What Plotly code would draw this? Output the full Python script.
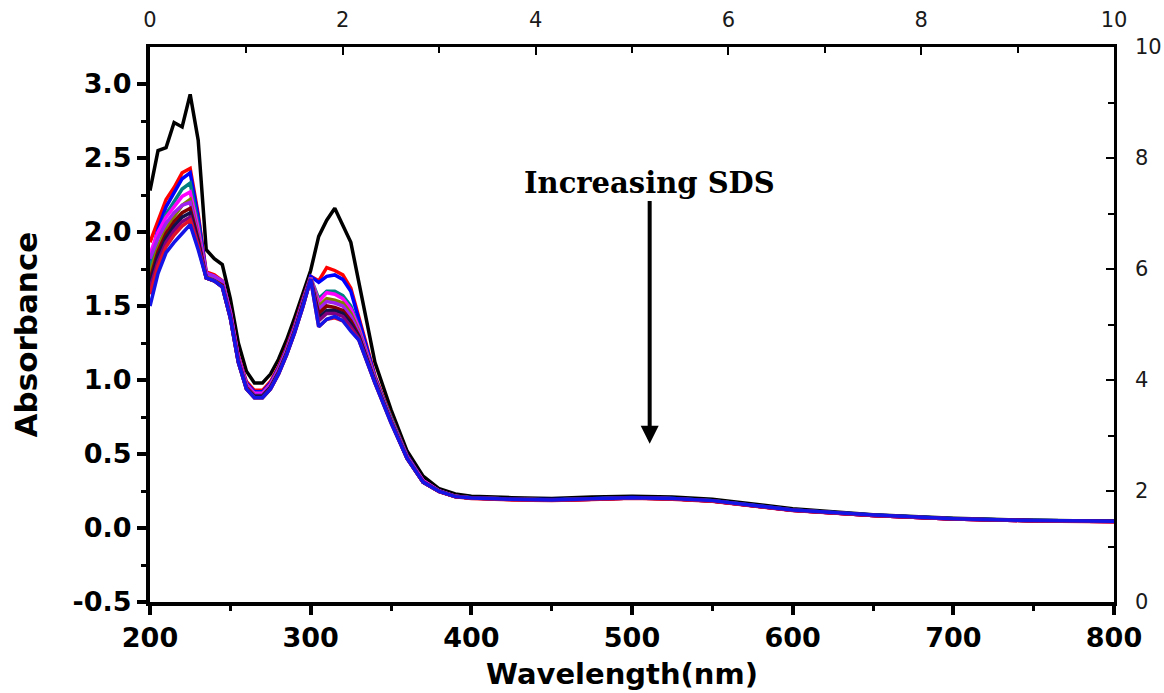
import plotly.graph_objects as go

# Wavelength grid (nm)
wavelength = [200, 205, 210, 215, 220, 225, 230, 235, 240, 245, 250, 255, 260, 265, 270,
              275, 280, 285, 290, 295, 300, 305, 310, 315, 320, 325, 330, 340, 350, 360,
              370, 380, 390, 400, 425, 450, 475, 500, 525, 550, 600, 650, 700, 750, 800]

# Absorbance spectra, from no SDS to the highest SDS concentration
abs_0 = [2.28, 2.55, 2.57, 2.74, 2.71, 2.93, 2.62, 1.88, 1.82, 1.78, 1.55, 1.25, 1.06, 0.98, 0.98,
         1.04, 1.14, 1.27, 1.42, 1.58, 1.74, 1.97, 2.08, 2.16, 2.05, 1.93, 1.66, 1.12, 0.80, 0.52,
         0.35, 0.265, 0.23, 0.215, 0.205, 0.20, 0.21, 0.215, 0.21, 0.195, 0.13, 0.09, 0.066, 0.052, 0.046]
abs_1 = [1.93, 2.08, 2.22, 2.30, 2.40, 2.43, 2.12, 1.73, 1.71, 1.67, 1.46, 1.16, 0.99, 0.93, 0.93,
         0.99, 1.09, 1.22, 1.37, 1.54, 1.70, 1.67, 1.76, 1.74, 1.71, 1.62, 1.42, 1.03, 0.75, 0.49,
         0.32, 0.25, 0.215, 0.203, 0.193, 0.188, 0.195, 0.203, 0.197, 0.182, 0.12, 0.085, 0.061, 0.049, 0.044]
abs_2 = [1.80, 2.02, 2.17, 2.26, 2.36, 2.40, 2.10, 1.72, 1.70, 1.66, 1.45, 1.15, 0.98, 0.92, 0.92,
         0.98, 1.08, 1.21, 1.36, 1.53, 1.70, 1.66, 1.70, 1.71, 1.68, 1.60, 1.40, 1.02, 0.74, 0.49,
         0.32, 0.25, 0.215, 0.205, 0.196, 0.192, 0.198, 0.206, 0.20, 0.185, 0.122, 0.087, 0.063, 0.05, 0.045]
abs_3 = [1.75, 1.97, 2.12, 2.20, 2.29, 2.33, 2.05, 1.71, 1.69, 1.65, 1.44, 1.14, 0.97, 0.91, 0.91,
         0.97, 1.07, 1.20, 1.35, 1.52, 1.69, 1.55, 1.60, 1.60, 1.57, 1.50, 1.36, 1.01, 0.74, 0.48,
         0.32, 0.25, 0.214, 0.204, 0.195, 0.19, 0.197, 0.205, 0.199, 0.184, 0.121, 0.086, 0.062, 0.05, 0.045]
abs_4 = [1.85, 2.00, 2.10, 2.17, 2.24, 2.27, 2.02, 1.72, 1.70, 1.66, 1.45, 1.15, 0.97, 0.91, 0.91,
         0.97, 1.07, 1.20, 1.35, 1.52, 1.69, 1.53, 1.59, 1.58, 1.55, 1.48, 1.35, 1.01, 0.73, 0.48,
         0.32, 0.25, 0.214, 0.203, 0.194, 0.189, 0.196, 0.204, 0.198, 0.183, 0.12, 0.085, 0.061, 0.049, 0.044]
abs_5 = [1.72, 1.90, 2.03, 2.11, 2.18, 2.22, 1.98, 1.70, 1.68, 1.64, 1.43, 1.13, 0.96, 0.90, 0.90,
         0.96, 1.06, 1.19, 1.34, 1.51, 1.69, 1.50, 1.55, 1.54, 1.52, 1.45, 1.33, 1.00, 0.73, 0.48,
         0.31, 0.248, 0.213, 0.203, 0.194, 0.19, 0.196, 0.204, 0.198, 0.184, 0.121, 0.086, 0.062, 0.05, 0.045]
abs_6 = [1.82, 1.96, 2.06, 2.13, 2.18, 2.20, 1.97, 1.72, 1.70, 1.67, 1.46, 1.15, 0.96, 0.90, 0.90,
         0.96, 1.06, 1.19, 1.34, 1.51, 1.69, 1.48, 1.53, 1.52, 1.50, 1.43, 1.32, 1.00, 0.73, 0.48,
         0.31, 0.248, 0.213, 0.202, 0.193, 0.188, 0.195, 0.203, 0.197, 0.183, 0.12, 0.085, 0.061, 0.049, 0.044]
abs_7 = [1.68, 1.87, 1.99, 2.07, 2.13, 2.16, 1.95, 1.69, 1.67, 1.64, 1.43, 1.13, 0.95, 0.89, 0.89,
         0.95, 1.05, 1.18, 1.33, 1.50, 1.68, 1.45, 1.50, 1.49, 1.47, 1.40, 1.30, 0.99, 0.72, 0.47,
         0.31, 0.247, 0.212, 0.202, 0.193, 0.189, 0.195, 0.203, 0.197, 0.183, 0.12, 0.085, 0.061, 0.049, 0.044]
abs_8 = [1.65, 1.84, 1.96, 2.04, 2.10, 2.13, 1.93, 1.69, 1.67, 1.63, 1.42, 1.12, 0.94, 0.89, 0.89,
         0.95, 1.05, 1.18, 1.33, 1.50, 1.68, 1.42, 1.47, 1.47, 1.45, 1.38, 1.29, 0.99, 0.72, 0.47,
         0.31, 0.247, 0.212, 0.202, 0.193, 0.189, 0.196, 0.204, 0.198, 0.184, 0.121, 0.086, 0.062, 0.05, 0.045]
abs_9 = [1.62, 1.80, 1.93, 2.01, 2.07, 2.10, 1.91, 1.69, 1.67, 1.63, 1.42, 1.12, 0.94, 0.88, 0.88,
         0.94, 1.04, 1.17, 1.32, 1.49, 1.68, 1.40, 1.45, 1.45, 1.43, 1.36, 1.28, 0.98, 0.72, 0.47,
         0.31, 0.246, 0.212, 0.202, 0.193, 0.188, 0.195, 0.203, 0.197, 0.183, 0.12, 0.085, 0.061, 0.049, 0.044]
abs_10 = [1.58, 1.77, 1.90, 1.98, 2.04, 2.08, 1.90, 1.69, 1.67, 1.63, 1.42, 1.12, 0.94, 0.88, 0.88,
          0.94, 1.04, 1.17, 1.32, 1.49, 1.68, 1.36, 1.41, 1.42, 1.40, 1.34, 1.27, 0.98, 0.71, 0.47,
          0.31, 0.246, 0.211, 0.20, 0.19, 0.186, 0.193, 0.201, 0.195, 0.181, 0.119, 0.084, 0.06, 0.048, 0.043]
abs_11 = [1.50, 1.72, 1.86, 1.93, 1.99, 2.05, 1.88, 1.69, 1.67, 1.63, 1.42, 1.12, 0.94, 0.88, 0.88,
          0.94, 1.04, 1.17, 1.32, 1.49, 1.68, 1.36, 1.41, 1.43, 1.40, 1.33, 1.27, 0.98, 0.71, 0.47,
          0.31, 0.247, 0.212, 0.203, 0.194, 0.19, 0.197, 0.205, 0.199, 0.185, 0.122, 0.087, 0.063, 0.05, 0.045]

spectra = [abs_0, abs_1, abs_2, abs_3, abs_4, abs_5, abs_6, abs_7, abs_8, abs_9, abs_10, abs_11]
colors = ["#000000", "#FF0000", "#0000FF", "#008080", "#FF00FF", "#808000",
          "#A020F0", "#800000", "#10104A", "#800080", "#E0102A", "#1414E6"]

# Secondary (top / right) axis ranges and ticks
top_range = [0, 10]
right_range = [0, 10]
sec_ticks = [0, 2, 4, 6, 8, 10]
sec_minor = [1, 3, 5, 7, 9]

fig = go.Figure()
for ys, c in zip(spectra, colors):
    fig.add_trace(go.Scatter(x=wavelength, y=ys, mode="lines",
                             line=dict(color=c, width=3.5), showlegend=False,
                             hoverinfo="x+y"))

# empty trace so the secondary top/right axes get drawn
fig.add_trace(go.Scatter(x=[None], y=[None], xaxis="x2", yaxis="y2", mode="lines",
                         showlegend=False, hoverinfo="skip"))

label_font = dict(family="DejaVu Sans", size=27, color="black", weight="bold")
thin_font = dict(family="DejaVu Sans", size=21, color="#1a1a1a")

sec_axis = dict(tickvals=sec_ticks, ticks="inside", ticklen=8, tickwidth=2,
                tickcolor="black", automargin=False,
                minor=dict(tickvals=sec_minor, ticks="inside", ticklen=6,
                           tickwidth=2, tickcolor="black"),
                showline=True, linewidth=2.5, linecolor="black", showgrid=False,
                zeroline=False, tickfont=thin_font)

fig.update_layout(
    width=1164, height=693,
    margin=dict(l=150, r=50, t=47, b=91, autoexpand=False),
    paper_bgcolor="white", plot_bgcolor="white",
    xaxis=dict(range=[200, 800], tickvals=[200, 300, 400, 500, 600, 700, 800],
               ticks="outside", ticklen=9, tickwidth=3.5, tickcolor="black",
               automargin=False,
               minor=dict(tickvals=[250, 350, 450, 550, 650, 750], ticks="outside",
                          ticklen=5, tickwidth=3, tickcolor="black"),
               showline=True, linewidth=4, linecolor="black", showgrid=False,
               zeroline=False, tickfont=label_font),
    yaxis=dict(range=[-0.5, 3.25], tickvals=[-0.5, 0, 0.5, 1.0, 1.5, 2.0, 2.5, 3.0],
               ticktext=["-0.5", "0.0", "0.5", "1.0", "1.5", "2.0", "2.5", "3.0"],
               ticks="outside", ticklen=9, tickwidth=3.5, tickcolor="black",
               automargin=False,
               minor=dict(tickvals=[-0.25, 0.25, 0.75, 1.25, 1.75, 2.25, 2.75], ticks="outside",
                          ticklen=5, tickwidth=3, tickcolor="black"),
               showline=True, linewidth=4, linecolor="black", showgrid=False,
               zeroline=False, tickfont=label_font),
    xaxis2=dict(sec_axis, range=top_range, overlaying="x", side="top", anchor="y",
                ticklabelstandoff=9),
    yaxis2=dict(sec_axis, range=right_range, overlaying="y", side="right", anchor="x",
                ticklabelstandoff=14),
)

# Axis titles
fig.add_annotation(text="<b>Wavelength(nm)</b>", xref="paper", yref="paper",
                   x=0.49, y=0, yshift=-72, showarrow=False, yanchor="middle",
                   font=dict(family="DejaVu Sans", size=29, color="black"))
fig.add_annotation(text="<b>Absorbance</b>", xref="paper", yref="paper",
                   x=0, xshift=-124, y=0.482, textangle=-90, showarrow=False,
                   xanchor="center", yanchor="middle",
                   font=dict(family="DejaVu Sans", size=31, color="black"))

# Trend label and arrow
fig.add_annotation(text="<b>Increasing SDS</b>", x=511, y=2.33, xref="x", yref="y",
                   showarrow=False, font=dict(family="DejaVu Serif", size=29, color="black"))
fig.add_annotation(x=511, y=0.57, ax=511, ay=2.22, xref="x", yref="y", axref="x", ayref="y",
                   text="", showarrow=True, arrowhead=2, arrowsize=0.9, arrowwidth=4,
                   arrowcolor="black", standoff=0)

fig.write_html("out.html")
